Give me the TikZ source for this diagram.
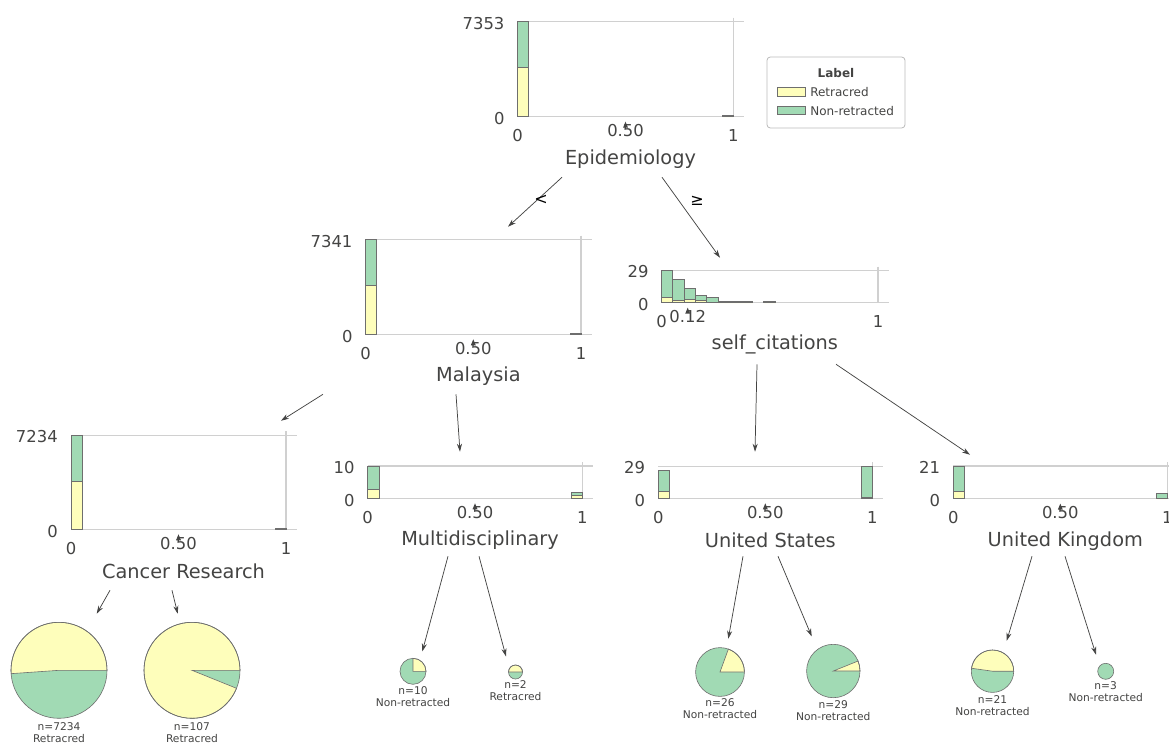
\documentclass[tikz,border=0pt]{standalone}
\usepackage{fontspec}
\setmainfont{DejaVu Sans}
\usetikzlibrary{arrows.meta,calc,fit,positioning}

\definecolor{txt}{HTML}{444443}
\definecolor{retr}{HTML}{FEFEBB}
\definecolor{nonret}{HTML}{A1DAB4}
\definecolor{framegray}{HTML}{D0D0D0}
\definecolor{barline}{HTML}{6E6E6E}
\definecolor{leggray}{HTML}{BBBBBB}

\tikzstyle{frame} = [draw=framegray, line width=0.8pt]
\tikzstyle{feat} = [text=txt, inner sep=0pt, font=\fontsize{14.5}{17}\selectfont]
\tikzstyle{ticklbl} = [text=txt, inner sep=0pt, font=\fontsize{12.3}{14}\selectfont]
\tikzstyle{leaftxt} = [text=txt, inner sep=0pt, align=center, font=\fontsize{8}{9}\selectfont]
\tikzstyle{leglbl} = [text=txt, inner sep=0pt, font=\fontsize{9}{11}\selectfont]
\tikzstyle{elbl} = [text=black, inner sep=0pt, font=\fontsize{12}{14}\selectfont]
\tikzstyle{edge} = [draw=txt, line width=0.55pt, -{Stealth[length=6pt, width=3.8pt]}]
\tikzstyle{nodebox} = [inner sep=0pt]
\tikzstyle{retbar} = [fill=retr, draw=barline, line width=0.4pt]
\tikzstyle{nonbar} = [fill=nonret, draw=barline, line width=0.4pt]
\tikzstyle{pieline} = [draw=barline, line width=0.45pt]

% name, x0, x1, ytop, ybot, max count, split x, split text, feature
\newcommand{\chart}[9]{%
  \draw[frame] (#2,#4) -- ({#3+(#3-#2)*0.05},#4);
  \draw[frame] (#2,#5) -- ({#3+(#3-#2)*0.05},#5);
  \draw[frame] (#3,#4-4) -- (#3,#5);
  \node[ticklbl, anchor=east] (#1-max) at (#2-13,#4+1.5) {#6};
  \node[ticklbl, anchor=east] (#1-zero) at (#2-13,#5+2) {0};
  \node[ticklbl] (#1-t0) at (#2,#5+19) {0};
  \node[ticklbl] (#1-t1) at (#3,#5+19) {1};
  \node[ticklbl] (#1-cut) at (#7,#5+14) {#8};
  \fill[txt] (#7,#5+5) -- (#7-2.5,#5+11) -- (#7+2.5,#5+11) -- cycle;
  \node[feat] (#1-lbl) at ({(#2+#3)/2+5},#5+42) {#9};
}
% x left, x right, yellow top, green top, bottom
\newcommand{\stackbar}[5]{%
  \filldraw[retbar] (#1,#5) rectangle (#2,#3);
  \filldraw[nonbar] (#1,#3) rectangle (#2,#4);
}
% name, x, y, radius (px), angle of the retracted slice
\newcommand{\leafpie}[5]{%
  \node[circle, inner sep=0pt, minimum size={#4*1.5pt}, fill=nonret] (#1) at (#2,#3) {};
  \filldraw[fill=retr, pieline] (#1.center) -- ++(0:{#4*0.75pt})
    arc[start angle=0, end angle=#5, radius={#4*0.75pt}] -- cycle;
  \draw[pieline] (#1.center) circle[radius={#4*0.75pt}];
}

\begin{document}
\begin{tikzpicture}[x=0.75pt, y=-0.75pt]
\useasboundingbox (0,0) rectangle (1169,746);
\fill[white] (0,0) rectangle (1169,746);

% decision nodes
\node[nodebox, fit={(470,10) (790,177)}] (epi) {};
\node[nodebox, fit={(310,227) (630,394)}] (mal) {};
\node[nodebox, fit={(620,258) (920,364)}] (sc) {};
\node[nodebox, fit={(30,421) (330,590)}] (cr) {};
\node[nodebox, fit={(330,452) (620,556)}] (mul) {};
\node[nodebox, fit={(620,452) (910,556)}] (us) {};
\node[nodebox, fit={(920,455) (1200,556)}] (uk) {};

\chart{epi}{517.7}{733.3}{21.7}{116.7}{7353}{625.5}{0.50}{Epidemiology}
\stackbar{517.7}{528.5}{67.3}{21.7}{116.7}
\stackbar{722.5}{733.3}{116.7}{115.7}{116.7}

\chart{mal}{365.7}{581}{239.7}{334.3}{7341}{473.3}{0.50}{Malaysia}
\stackbar{365.7}{376.5}{285.3}{239.7}{334.3}
\stackbar{570.2}{581}{334.3}{333.6}{334.3}

\chart{sc}{661.7}{878}{270.5}{302.7}{29}{687.7}{0.12}{self\_citations}
\foreach \xl/\xr/\yy/\yg in {661.7/672.7/297.7/270.5, 672.7/684/300.7/279.3,
    684/695.7/299/288.3, 695.7/706.7/300.3/295.3, 706.7/718.3/302.2/297.3,
    718.3/729.7/302.7/301.3, 729.7/741.2/302.7/301.3, 741.2/752.7/302.7/301.3,
    763.5/775.7/302.7/301}
  \stackbar{\xl}{\xr}{\yy}{\yg}{302.7};

\chart{cr}{71}{286}{435.3}{529.3}{7234}{178.5}{0.50}{Cancer Research}
\stackbar{71}{82}{481}{435.3}{529.3}
\stackbar{275.3}{286}{528.3}{528.3}{529.3}

\chart{mul}{367.7}{582.3}{466}{498.3}{10}{475}{0.50}{Multidisciplinary}
\stackbar{367.7}{379}{489.3}{466}{498.3}
\stackbar{571.6}{582.3}{495.7}{492.3}{498.3}

\chart{us}{658.3}{872.3}{466.3}{498.3}{29}{765.3}{0.50}{United States}
\stackbar{658.3}{669.7}{491}{470.3}{498.3}
\stackbar{861.6}{872.3}{497.5}{466.3}{498.3}

\chart{uk}{953.3}{1167.3}{466}{498.7}{21}{1060.3}{0.50}{United Kingdom}
\stackbar{953.3}{964.7}{491.3}{466}{498.7}
\stackbar{1156.6}{1167.3}{498.7}{493.7}{498.7}

% leaves
\leafpie{l1}{59}{670.3}{48}{184}
\leafpie{l2}{192}{670.3}{48}{338}
\leafpie{l3}{413}{671.3}{13}{90}
\leafpie{l4}{515.5}{672}{7}{180}
\leafpie{l5}{720}{672}{24.4}{70}
\leafpie{l6}{833.3}{671}{26.7}{22}
\leafpie{l7}{992.5}{671.2}{21.2}{172}
\node[circle, inner sep=0pt, minimum size=12pt, fill=nonret, pieline] (l8) at (1105.7,671.3) {};

\node[leaftxt, below=3pt of l1] (l1-txt) {n=7234\\Retracred};
\node[leaftxt, below=3pt of l2] (l2-txt) {n=107\\Retracred};
\node[leaftxt, below=1.3pt of l3] (l3-txt) {n=10\\Non-retracted};
\node[leaftxt, below=1pt of l4] (l4-txt) {n=2\\Retracred};
\node[leaftxt, below=1.6pt of l5] (l5-txt) {n=26\\Non-retracted};
\node[leaftxt, below=1.8pt of l6] (l6-txt) {n=29\\Non-retracted};
\node[leaftxt, below=2.2pt of l7] (l7-txt) {n=21\\Non-retracted};
\node[leaftxt, below=1pt of l8] (l8-txt) {n=3\\Non-retracted};

% edges
\draw[edge] ($(epi.south)+(-68,0)$) -- ($(mal.north)+(38,0)$);
\draw[edge] ($(epi.south)+(32,0)$) -- ($(sc.north)+(-50,0)$);
\node[elbl] (lt) at (541,200) {<};
\node[elbl] (ge) at (697,201) {≥};
\draw[edge] ($(mal.south)+(-147,0)$) -- ($(cr.north)+(101,0)$);
\draw[edge] ($(mal.south)+(-14,0)$) -- ($(mul.north)+(-15,0)$);
\draw[edge] ($(sc.south)+(-13,0)$) -- ($(us.north)+(-10,0)$);
\draw[edge] ($(sc.south)+(66,0)$) -- ($(uk.north)+(-90,0)$);
\draw[edge] ($(cr.south)+(-70,0)$) -- ($(l1.north)+(37.7,-8.3)$);
\draw[edge] ($(cr.south)+(-8,0)$) -- ($(l2.north)+(-14.3,-8.3)$);
\draw[edge] ($(mul.south)+(-27,0)$) -- ($(l3.north)+(9.3,-6.6)$);
\draw[edge] ($(mul.south)+(4,0)$) -- ($(l4.north)+(-9.5,-8.3)$);
\draw[edge] ($(us.south)+(-22,0)$) -- ($(l5.north)+(8.3,-8.6)$);
\draw[edge] ($(us.south)+(13,0)$) -- ($(l6.north)+(-21.6,-7.6)$);
\draw[edge] ($(uk.south)+(-28,0)$) -- ($(l7.north)+(14.2,-9)$);
\draw[edge] ($(uk.south)+(5,0)$) -- ($(l8.north)+(-9.7,-8.3)$);

% legend
\node[draw=leggray, rounded corners=2.5pt, line width=0.6pt, inner sep=0pt,
  fit={(767,57) (905,128)}] (legend) {};
\node[leglbl, font=\fontsize{9}{11}\selectfont\bfseries] (leg-title) at (836,73) {Label};
\filldraw[retbar] (777.3,87.3) rectangle (805,96);
\node[leglbl, anchor=west] (leg-ret) at (810,92) {Retracred};
\filldraw[nonbar] (777.3,106) rectangle (805,114.5);
\node[leglbl, anchor=west] (leg-non) at (810,111) {Non-retracted};
\end{tikzpicture}
\end{document}
